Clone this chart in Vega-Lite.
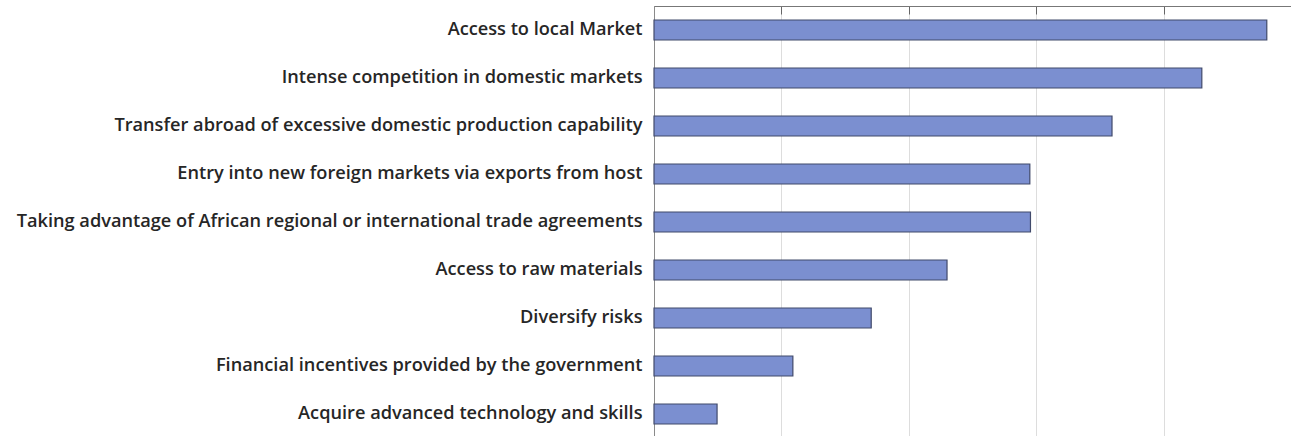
{
  "$schema": "https://vega.github.io/schema/vega-lite/v6.json",
  "width": 637,
  "height": 432,
  "autosize": {"type": "none"},
  "padding": {"left": 654, "top": 6, "right": 0, "bottom": 0},
  "background": "white",
  "config": {"view": {"stroke": null}},
  "data": {
    "values": [
      {"reason": "Access to local Market", "value": 96.2},
      {"reason": "Intense competition in domestic markets", "value": 86.0},
      {"reason": "Transfer abroad of excessive domestic production capability", "value": 71.9},
      {"reason": "Entry into new  foreign markets via exports from host", "value": 59.0},
      {"reason": "Taking advantage of African regional or international trade agreements", "value": 59.1},
      {"reason": "Access to raw materials", "value": 46.0},
      {"reason": "Diversify risks", "value": 34.1},
      {"reason": "Financial incentives provided by the government", "value": 21.8},
      {"reason": "Acquire advanced technology and skills", "value": 9.9}
    ]
  },
  "mark": {"type": "bar", "color": "#7b8fd0", "stroke": "#414a6b", "strokeWidth": 1.2},
  "encoding": {
    "y": {
      "field": "reason",
      "type": "nominal",
      "sort": null,
      "scale": {"paddingInner": 0.583, "paddingOuter": 0.2915},
      "axis": {
        "title": null,
        "ticks": false,
        "domainColor": "#8a8a8a",
        "labelFont": "Open Sans",
        "labelFontSize": 18.2,
        "labelFontWeight": 600,
        "labelColor": "#262626",
        "labelPadding": 12,
        "labelLimit": 700
      }
    },
    "x": {
      "field": "value",
      "type": "quantitative",
      "scale": {"domain": [0, 100]},
      "axis": {
        "orient": "top",
        "title": null,
        "labels": false,
        "values": [0, 20, 40, 60, 80, 100],
        "tickSize": -8,
        "tickColor": "#666666",
        "domainColor": "#777777",
        "gridColor": "#dddddd",
        "grid": true
      }
    }
  }
}
